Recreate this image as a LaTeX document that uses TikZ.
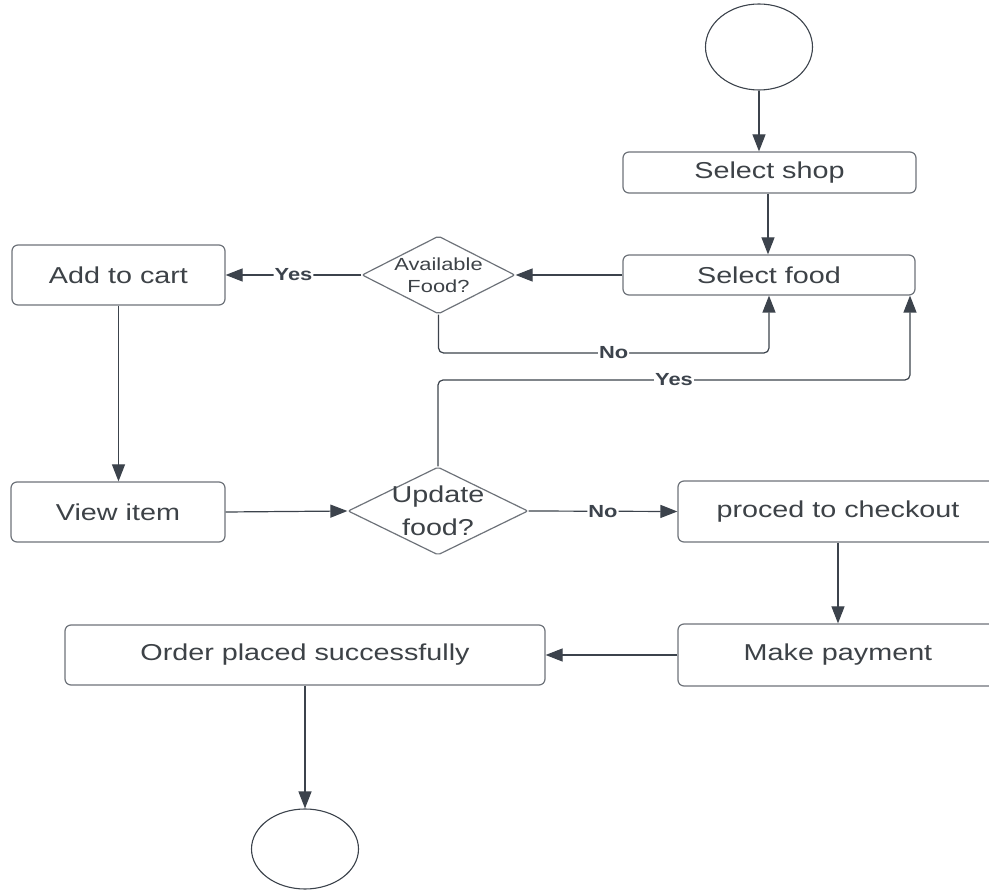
\documentclass[tikz,border=0pt]{standalone}
\usepackage{fontspec}
\setmainfont{Liberation Sans}[FakeStretch=1.25]
\usetikzlibrary{arrows.meta,shapes.geometric}
\definecolor{linec}{HTML}{3C434C}
\definecolor{boxc}{HTML}{6E737A}
\definecolor{txtc}{HTML}{3D4247}
\tikzset{
  procbox/.style={draw=boxc, line width=1.2pt, rounded corners=6pt, fill=white,
    text=txtc, font=\fontsize{23}{26}\selectfont},
  decision/.style={diamond, draw=boxc, line width=1.2pt, fill=white,
    inner sep=0pt, rounded corners=2pt},
  decisiontext/.style={text=txtc, align=center, inner sep=0pt},
  terminal/.style={ellipse, draw=linec, line width=1.1pt, fill=white},
  flow/.style={draw=linec, line width=1.2pt, -{Triangle[length=17pt,width=13pt]}, rounded corners=5pt},
  flowlabel/.style={fill=white, inner sep=1pt, text=linec, font=\bfseries\fontsize{17.5}{19}\selectfont}
}
\begin{document}
\begin{tikzpicture}[x=1pt,y=-1pt]
\useasboundingbox (0,0) rectangle (989,890);
\clip (0,0) rectangle (989,890);

% terminals
\node[terminal, minimum width=107pt, minimum height=86pt] (start) at (759,47) {};
\node[terminal, minimum width=107pt, minimum height=80pt] (stop) at (305,849) {};

% process boxes
\node[procbox, minimum width=293pt, minimum height=41pt] (shop) at (769.5,172.5) {Select shop};
\node[procbox, minimum width=292pt, minimum height=40pt] (food) at (769,275) {Select food};
\node[procbox, minimum width=213pt, minimum height=60pt] (cart) at (118.5,275) {Add to cart};
\node[procbox, minimum width=214pt, minimum height=60pt] (view) at (118,512) {View item};
\node[procbox, minimum width=320pt, minimum height=61pt] (checkout) at (838,511.5) {proced to checkout};
\node[procbox, minimum width=320pt, minimum height=62pt] (pay) at (838,655) {Make payment};
\node[procbox, minimum width=480pt, minimum height=60pt] (order) at (305,655) {Order placed successfully};

% decisions: the diamond outline first, its question set on top
\node[decision, aspect=1.96, minimum width=153pt, minimum height=78pt] (avail) at (438.5,275) {};
\node[decisiontext, font=\fontsize{17.5}{22}\selectfont] (availtext) at (avail.center) {Available\\Food?};
\node[decision, aspect=2.05, minimum width=180pt, minimum height=88pt] (update) at (438,511) {};
\node[decisiontext, font=\fontsize{23}{33}\selectfont] (updatetext) at (update.center) {Update\\food?};

% connectors
\draw[flow] (start.south) -- (start.south |- shop.north);
\draw[flow] ([xshift=-1pt]food.north |- shop.south) -- ([xshift=-1pt]food.north);
\draw[flow] (food.west) -- (avail.east);
\draw[flow] (avail.west) -- node[flowlabel] {Yes} (cart.east);
\coordinate (nocorner) at (438.5,353);
\draw[flow] (avail.south) -- (nocorner) -- node[flowlabel, pos=0.53] {No} (nocorner -| food.south) -- (food.south);
\draw[flow] (cart.south) -- (cart.south |- view.north);
\draw[flow] (view.east) -- (update.west);
\coordinate (yescorner) at (438,380);
\coordinate (yesright) at (910,380);
\draw[flow] (update.north) -- (yescorner) -- node[flowlabel, pos=0.5] {Yes} (yesright) -- (yesright |- food.south);
\draw[flow] (update.east) -- node[flowlabel] {No} (checkout.west);
\draw[flow] (checkout.south) -- (pay.north);
\draw[flow] (pay.west) -- (order.east);
\draw[flow] (order.south) -- (stop.north);
\end{tikzpicture}
\end{document}
